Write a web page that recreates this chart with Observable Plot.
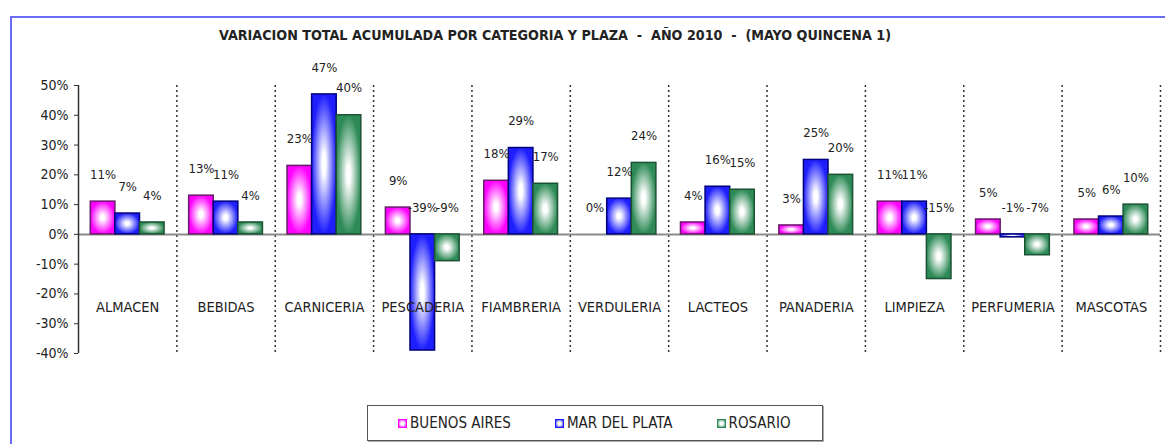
<!DOCTYPE html>
<html><head><meta charset="utf-8">
<script src="https://cdn.jsdelivr.net/npm/d3@7"></script>
<script src="https://cdn.jsdelivr.net/npm/@observablehq/plot@0.6"></script>
<style>
body{margin:0;background:#fff;width:1165px;height:444px;overflow:hidden;position:relative;font-family:"Liberation Sans Narrow","DejaVu Sans Condensed",Arial,sans-serif;color:#222;}
#frame{position:absolute;left:10px;top:16px;width:1160px;height:440px;border-top:2px solid #6b6bf5;border-left:2px solid #6b6bf5;}
#title{position:absolute;top:27px;left:0;width:1110px;text-align:center;font-weight:bold;font-size:14.2px;white-space:pre;}
#chart{position:absolute;left:0;top:50px;}
#legend{position:absolute;left:367px;top:405px;width:456px;height:36px;border:1px solid #555;box-shadow:1px 1px 0 #aaa;box-sizing:border-box;display:flex;align-items:center;padding-left:30px;gap:44px;font-size:15px;}
.item{display:flex;align-items:center;}
.sw{width:7px;height:7px;border:1.5px solid;margin-right:3px;}
</style></head>
<body>
<svg width="0" height="0" style="position:absolute">
<defs>
<radialGradient id="gPink" cx="0.5" cy="0.5" r="0.5"><stop offset="0" stop-color="#fff"/><stop offset="0.15" stop-color="#fff"/><stop offset="1" stop-color="#ff00ff"/></radialGradient>
<radialGradient id="gBlue" cx="0.5" cy="0.5" r="0.5"><stop offset="0" stop-color="#fff"/><stop offset="0.15" stop-color="#fff"/><stop offset="1" stop-color="#1e1eff"/></radialGradient>
<radialGradient id="gGreen" cx="0.5" cy="0.5" r="0.5"><stop offset="0" stop-color="#fff"/><stop offset="0.15" stop-color="#fff"/><stop offset="1" stop-color="#2e8b57"/></radialGradient>
</defs></svg>
<div id="frame"></div>
<div id="title">VARIACION TOTAL ACUMULADA POR CATEGORIA Y PLAZA  -  AÑO 2010  -  (MAYO QUINCENA 1)</div>
<div id="chart"></div>
<div id="legend"></div>
<script>
const categories = ["ALMACEN","BEBIDAS","CARNICERIA","PESCADERIA","FIAMBRERIA","VERDULERIA","LACTEOS","PANADERIA","LIMPIEZA","PERFUMERIA","MASCOTAS"];
const seriesNames = ["BUENOS AIRES","MAR DEL PLATA","ROSARIO"];
const buenosAires = [11,13,23,9,18,0,4,3,11,5,5];
const marDelPlata = [7,11,47,-39,29,12,16,25,11,-1,6];
const rosario = [4,4,40,-9,17,24,15,20,-15,-7,10];
const yTicks = [-40,-30,-20,-10,0,10,20,30,40,50];

const seriesValues = [buenosAires, marDelPlata, rosario];
const fills = ["url(#gPink)","url(#gBlue)","url(#gGreen)"];
const strokes = ["#6a1a6a","#00007a","#1c5234"];
const swatchColors = ["#ff00ff","#1e1eff","#2e8b57"];
const barW = 0.25, pad = 0.125;
const font = '"Liberation Sans Narrow","DejaVu Sans Condensed",Arial,sans-serif';

const barMarks = [];
const labelMarks = [];
seriesValues.forEach((vals, j) => {
  const rows = categories.map((c, i) => ({c, i, v: vals[i]}));
  barMarks.push(Plot.rectY(rows, {
    x1: d => d.i + pad + barW * j, x2: d => d.i + pad + barW * (j + 1),
    y1: 0, y2: "v", fill: fills[j], stroke: strokes[j], strokeWidth: 1.5, inset: 0
  }));
  labelMarks.push(Plot.text(rows, {
    x: d => d.i + pad + barW * (j + 0.5), y: d => Math.max(d.v, 0),
    text: d => d.v + "%", dy: -27, fill: "#222", fontSize: 13
  }));
});

const chart = Plot.plot({
  width: 1165, height: 340,
  marginLeft: 78, marginRight: 5, marginTop: 35, marginBottom: 37,
  style: {fontFamily: font, fontSize: "14px", color: "#222", background: "transparent", overflow: "visible"},
  x: {domain: [0, categories.length], axis: null},
  y: {domain: [-40, 50], axis: null},
  marks: [
    Plot.ruleX(d3.range(1, categories.length + 1), {stroke: "#333", strokeWidth: 1.5, strokeDasharray: "2,3"}),
    Plot.ruleY([0], {stroke: "#8a8a8a", strokeWidth: 2}),
    ...barMarks,
    Plot.ruleX([0], {stroke: "#333", strokeWidth: 1.5}),
    Plot.axisY(yTicks, {label: null, tickSize: 4, tickPadding: 6, tickFormat: d => d + "%", fontSize: 14, stroke: "#333"}),
    Plot.axisX(categories.map((c, i) => i + 0.5), {label: null, anchor: "bottom", tickSize: 0, tickPadding: 0, dy: -52, tickFormat: d => categories[Math.floor(d)], fontSize: 14.5}),
    ...labelMarks
  ]
});
document.getElementById("chart").appendChild(chart);

const legend = document.getElementById("legend");
seriesNames.forEach((name, j) => {
  const it = document.createElement("div");
  it.className = "item";
  const sw = document.createElement("span");
  sw.className = "sw";
  sw.style.borderColor = swatchColors[j];
  sw.style.background = "radial-gradient(#fff 30%, " + swatchColors[j] + ")";
  const t = document.createElement("span");
  t.textContent = name;
  it.appendChild(sw); it.appendChild(t);
  legend.appendChild(it);
});
</script>
</body></html>
